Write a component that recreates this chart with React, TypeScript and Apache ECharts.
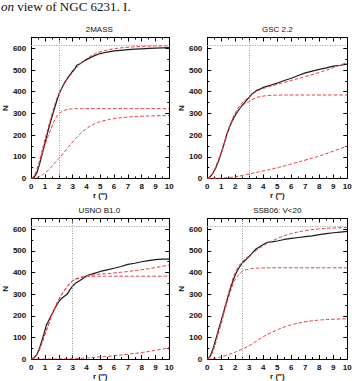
import React, { useEffect, useRef } from "react";
import * as echarts from "echarts";

// Radii (arcsec) at which the fitted profiles are sampled
const fitR = [0, 0.25, 0.5, 0.75, 1, 1.25, 1.5, 1.75, 2, 2.5, 3, 3.5, 4, 4.5, 5, 5.5, 6, 7, 8, 9, 10];

// 2MASS
const massObsR = [0, 0.2, 0.4, 0.6, 0.8, 1, 1.2, 1.4, 1.6, 1.8, 2, 2.2, 2.4, 2.6, 2.8, 3, 3.2, 3.3, 3.5, 3.8, 4, 4.5, 5, 5.5, 6, 6.5, 7, 7.5, 8, 8.5, 9, 9.5, 10];
const massObsN = [0, 5, 25, 65, 115, 165, 215, 262, 305, 348, 388, 415, 440, 460, 478, 495, 510, 522, 528, 540, 548, 564, 576, 583, 588, 591, 594, 596, 598, 600, 601, 602, 603];
const massCore = [0, 15, 55, 105, 155, 200, 240, 275, 298, 316, 321, 322, 322, 322, 322, 322, 322, 322, 322, 322, 322];
const massHalo = [0, 2, 7, 15, 27, 40, 57, 75, 92, 130, 168, 203, 230, 249, 262, 270, 276, 283, 287, 289, 290];
const massTotal = [0, 17, 62, 120, 182, 240, 297, 350, 390, 446, 489, 525, 552, 571, 584, 592, 598, 605, 609, 611, 612];

// GSC 2.2
const gscObsR = [0, 0.2, 0.4, 0.6, 0.8, 1, 1.2, 1.4, 1.6, 1.8, 2, 2.2, 2.4, 2.6, 2.8, 3, 3.2, 3.5, 3.8, 4, 4.5, 5, 5.5, 6, 6.5, 7, 7.5, 8, 8.5, 9, 9.5, 10];
const gscObsN = [0, 8, 25, 48, 80, 118, 160, 205, 240, 268, 292, 312, 330, 345, 360, 375, 390, 405, 413, 420, 430, 440, 452, 462, 475, 487, 495, 503, 510, 518, 522, 527];
const gscCore = [0, 10, 38, 78, 120, 168, 220, 262, 295, 335, 355, 372, 380, 383, 384, 385, 385, 385, 385, 385, 385];
const gscField = [0, 0, 1, 1, 2, 3, 5, 6, 8, 14, 21, 28, 35, 42, 50, 58, 67, 85, 104, 126, 150];
const gscTotal = [0, 10, 39, 79, 122, 171, 225, 268, 303, 349, 376, 400, 415, 425, 434, 443, 452, 470, 489, 511, 535];

// USNO B1.0
const usnoObsR = [0, 0.2, 0.4, 0.6, 0.8, 1, 1.1, 1.2, 1.4, 1.6, 1.8, 2, 2.2, 2.4, 2.6, 2.8, 3, 3.2, 3.5, 3.8, 4, 4.5, 5, 5.5, 6, 6.5, 7, 7.5, 8, 8.5, 9, 9.5, 10];
const usnoObsN = [0, 5, 20, 50, 90, 135, 158, 170, 195, 220, 245, 265, 280, 290, 300, 320, 338, 350, 362, 375, 385, 395, 405, 412, 420, 428, 438, 443, 450, 455, 460, 462, 462];
const usnoCore = [0, 8, 30, 70, 115, 160, 205, 242, 275, 325, 360, 374, 380, 382, 383, 383, 383, 383, 383, 383, 383];
const usnoField = [0, 0, 0, 0, 0, 0, 0, 0, 1, 1, 2, 3, 5, 7, 10, 12, 15, 22, 30, 40, 52];
const usnoTotal = [0, 8, 30, 70, 115, 160, 205, 242, 276, 326, 362, 377, 385, 389, 393, 395, 398, 405, 413, 423, 435];

// SSB06, V<20
const ssbObsR = [0, 0.2, 0.4, 0.6, 0.8, 1, 1.2, 1.4, 1.6, 1.8, 2, 2.2, 2.4, 2.6, 2.8, 3, 3.2, 3.5, 3.8, 4, 4.3, 4.6, 5, 5.5, 6, 6.5, 7, 7.5, 8, 8.5, 9, 9.5, 10];
const ssbObsN = [0, 12, 45, 90, 135, 180, 225, 270, 315, 355, 390, 415, 435, 450, 462, 475, 490, 510, 522, 530, 540, 542, 546, 553, 558, 562, 566, 570, 575, 580, 584, 587, 590];
const ssbCore = [0, 15, 55, 110, 165, 225, 280, 330, 368, 405, 416, 420, 421, 422, 422, 422, 422, 422, 422, 422, 422];
const ssbHalo = [0, 1, 3, 6, 10, 15, 20, 26, 32, 46, 62, 82, 103, 120, 135, 148, 158, 172, 180, 184, 186];
const ssbTotal = [0, 16, 58, 116, 175, 240, 300, 356, 400, 451, 478, 502, 524, 542, 557, 570, 580, 594, 602, 606, 608];

const panelTitles = ["2MASS", "GSC 2.2", "USNO B1.0", "SSB06: V<20"];
const coreRadii = [2, 3, 3, 2.5];
const totalCount = 612;

const yTicks = [0, 100, 200, 300, 400, 500, 600];
const xTicks = [0, 1, 2, 3, 4, 5, 6, 7, 8, 9, 10];

const zip = (xs: number[], ys: number[]) => xs.map((x, i) => [x, ys[i]]);

const panels = [
  { obs: zip(massObsR, massObsN), fits: [zip(fitR, massTotal), zip(fitR, massCore), zip(fitR, massHalo)] },
  { obs: zip(gscObsR, gscObsN), fits: [zip(fitR, gscTotal), zip(fitR, gscCore), zip(fitR, gscField)] },
  { obs: zip(usnoObsR, usnoObsN), fits: [zip(fitR, usnoTotal), zip(fitR, usnoCore), zip(fitR, usnoField)] },
  { obs: zip(ssbObsR, ssbObsN), fits: [zip(fitR, ssbTotal), zip(fitR, ssbCore), zip(fitR, ssbHalo)] },
];

const gridLeft = [29.3, 207.3, 29.3, 207.3];
const gridTop = [37.5, 37.5, 218.5, 218.5];
const GW = 140;
const GH = 141;

const FONT = "Liberation Sans";
const RED = "#e8383d";
const INK = "#1a1a1a";

export default function App() {
  const ref = useRef<HTMLDivElement>(null);

  useEffect(() => {
    if (!ref.current) return;
    const chart = echarts.init(ref.current, null, { renderer: "svg" });

    const frameLine = { show: true, onZero: false, lineStyle: { color: "#000", width: 1 } };
    const tick = { show: true, inside: true, length: 4, lineStyle: { color: "#000", width: 1 } };
    const minor = { show: true, splitNumber: 2, length: 2, lineStyle: { color: "#000", width: 1 } };
    const labelStyle = { fontFamily: FONT, fontSize: 8, fontWeight: "bold" as const, color: "#111" };

    const grid: any[] = [];
    const xAxis: any[] = [];
    const yAxis: any[] = [];
    const series: any[] = [];
    const title: any[] = [];

    panels.forEach((p, i) => {
      grid.push({ left: gridLeft[i], top: gridTop[i], width: GW, height: GH });
      title.push({
        text: panelTitles[i],
        left: gridLeft[i] + GW / 2,
        top: gridTop[i] - 12,
        textAlign: "center",
        padding: 0,
        textStyle: { fontFamily: FONT, fontSize: 8, fontWeight: "normal", color: "#111" },
      });
      const xBase = {
        gridIndex: i, type: "value", min: 0, max: 10, interval: 1,
        axisLine: frameLine, axisTick: tick, minorTick: minor, splitLine: { show: false },
      };
      const yBase = {
        gridIndex: i, type: "value", min: 0, max: 650, interval: 100,
        axisLine: frameLine, axisTick: tick, minorTick: minor, splitLine: { show: false },
      };
      xAxis.push({
        ...xBase, position: "bottom",
        axisLabel: { ...labelStyle, margin: 4, formatter: (v: number) => (xTicks.includes(v) ? String(v) : "") },
        name: "r (\u2033)", nameLocation: "middle", nameGap: 13,
        nameTextStyle: { fontFamily: FONT, fontSize: 8, fontWeight: "bold", color: "#111" },
      });
      xAxis.push({ ...xBase, position: "top", axisLabel: { show: false } });
      yAxis.push({
        ...yBase, position: "left",
        axisLabel: { ...labelStyle, margin: 5, formatter: (v: number) => (yTicks.includes(v) ? String(v) : "") },
        name: "N", nameLocation: "middle", nameGap: 20,
        nameTextStyle: { fontFamily: FONT, fontSize: 8, fontWeight: "bold", color: "#111" },
      });
      yAxis.push({ ...yBase, position: "right", axisLabel: { show: false } });

      // observed cumulative counts, with the reference lines for total count and core radius
      series.push({
        type: "line", xAxisIndex: 2 * i, yAxisIndex: 2 * i, data: p.obs,
        showSymbol: false, lineStyle: { color: INK, width: 1.2 }, z: 2,
        markLine: {
          silent: true, symbol: "none", label: { show: false },
          lineStyle: { color: "#9a9a9a", type: [1, 1.5], width: 1 },
          data: [{ yAxis: totalCount }, { xAxis: coreRadii[i] }],
        },
      });
      p.fits.forEach((f) => {
        series.push({
          type: "line", xAxisIndex: 2 * i, yAxisIndex: 2 * i, data: f, smooth: true,
          showSymbol: false, lineStyle: { color: RED, width: 1, type: [3.5, 2] }, z: 3,
        });
      });
    });

    chart.setOption({
      animation: false,
      backgroundColor: "#fff",
      title,
      grid,
      xAxis,
      yAxis,
      series,
      graphic: [
        {
          type: "text",
          x: 1,
          y: 0,
          style: {
            text: "{i|on} view of NGC 6231. I.",
            fontFamily: "Liberation Serif",
            fontSize: 13,
            fill: "#111",
            rich: { i: { fontStyle: "italic", fontFamily: "Liberation Serif", fontSize: 13, fill: "#111" } },
          },
        },
      ],
    });

    return () => chart.dispose();
  }, []);

  return <div ref={ref} style={{ position: "fixed", left: 0, top: 0, width: 357, height: 381 }} />;
}
